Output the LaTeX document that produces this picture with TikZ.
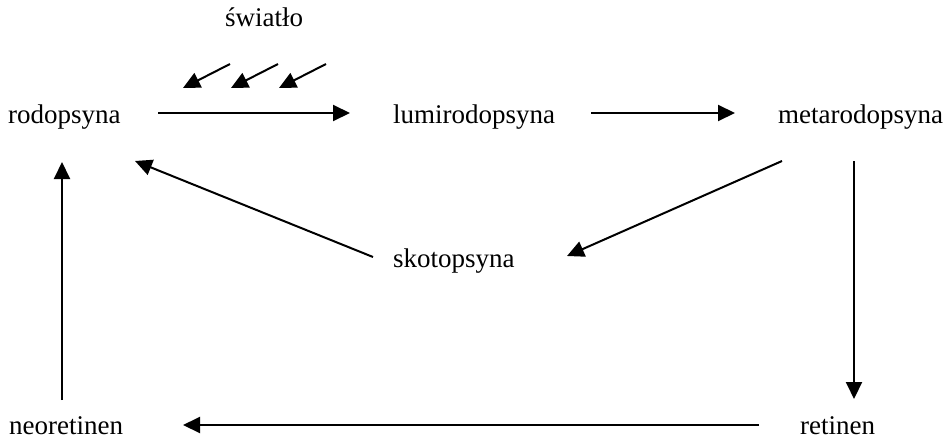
\documentclass[tikz,border=0pt]{standalone}
\usepackage{fontspec}
\setmainfont{Liberation Serif}
\usetikzlibrary{arrows.meta}
\begin{document}
\begin{tikzpicture}[x=1pt,y=-1pt,
  lbl/.style={anchor=base west,inner sep=0pt,font=\fontsize{27}{30}\selectfont},
  arr/.style={line width=2pt,-{Triangle[length=17pt,width=16pt]}}]
\useasboundingbox (0,0) rectangle (944,439);
\node[lbl] (light) at (225,26) {światło};
\node[lbl] (rod) at (8,123) {rodopsyna};
\node[lbl] (lumi) at (393,123) {lumirodopsyna};
\node[lbl] (meta) at (778,123) {metarodopsyna};
\node[lbl] (skoto) at (393,267) {skotopsyna};
\node[lbl] (neo) at (9,434) {neoretinen};
\node[lbl] (ret) at (800,434) {retinen};
% light rays
\draw[arr] ([shift={(5,38)}]light.base west) -- ([shift={(-42,62)}]light.base west);
\draw[arr] ([shift={(53,38)}]light.base west) -- ([shift={(6,62)}]light.base west);
\draw[arr] ([shift={(101,38)}]light.base west) -- ([shift={(54,62)}]light.base west);
% cycle
\draw[arr] ([shift={(150,-10)}]rod.base west) -- ([shift={(-43,-10)}]lumi.base west);
\draw[arr] ([shift={(198,-10)}]lumi.base west) -- ([shift={(-43,-10)}]meta.base west);
\draw[arr] ([shift={(4,38)}]meta.base west) -- ([shift={(174,-11)}]skoto.base west);
\draw[arr] ([shift={(-20,-10)}]skoto.base west) -- ([shift={(127,38)}]rod.base west);
\draw[arr] ([shift={(76,38)}]meta.base west) -- ([shift={(54,-35)}]ret.base west);
\draw[arr] ([shift={(-41,-9)}]ret.base west) -- ([shift={(174,-9)}]neo.base west);
\draw[arr] ([shift={(53,-34)}]neo.base west) -- ([shift={(54,39)}]rod.base west);
\end{tikzpicture}
\end{document}
